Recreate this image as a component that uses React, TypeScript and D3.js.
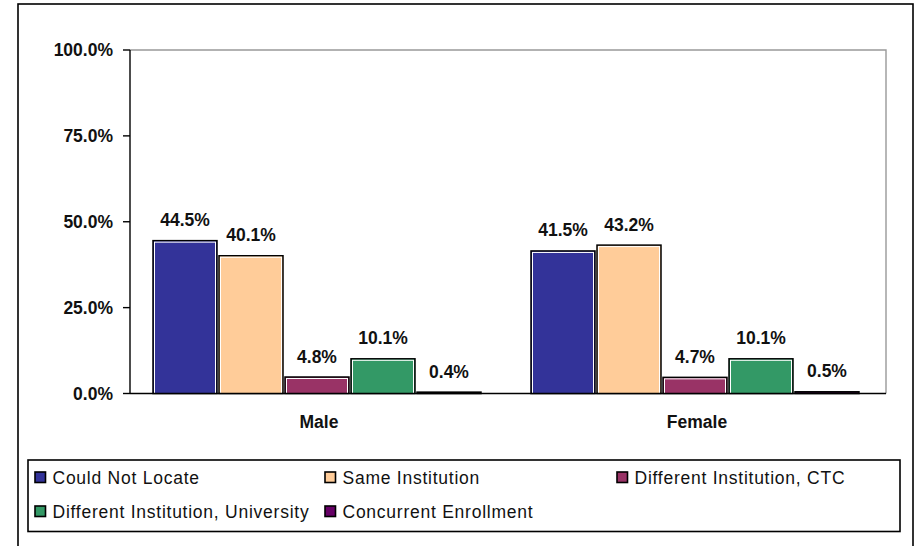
import * as d3 from "d3";

const categories = ["Male", "Female"];
const seriesNames = [
  "Could Not Locate",
  "Same Institution",
  "Different Institution, CTC",
  "Different Institution, University",
  "Concurrent Enrollment",
];
const seriesColors = ["#333399", "#FFCC99", "#993366", "#339966", "#660066"];
// values per series, [Male, Female]
const couldNotLocate = [0.445, 0.415];
const sameInstitution = [0.401, 0.432];
const diffCTC = [0.048, 0.047];
const diffUniversity = [0.101, 0.101];
const concurrent = [0.004, 0.005];
const yTicks = [0, 0.25, 0.5, 0.75, 1];

const seriesValues = [couldNotLocate, sameInstitution, diffCTC, diffUniversity, concurrent];

const WIDTH = 921;
const HEIGHT = 546;
const PLOT = { left: 130, right: 886, top: 50, bottom: 393.5 };
const FONT = "'Liberation Sans', Arial, Helvetica, sans-serif";

export default function App() {
  const x0 = d3
    .scaleBand<string>()
    .domain(categories)
    .range([PLOT.left, PLOT.right])
    .paddingInner(0.127)
    .paddingOuter(0.0635);
  const x1 = d3
    .scaleBand<string>()
    .domain(seriesNames)
    .range([0, x0.bandwidth()]);
  const y = d3.scaleLinear().domain([0, 1]).range([PLOT.bottom, PLOT.top]);
  const fmt = d3.format(".1%");

  const bars = categories.flatMap((cat, ci) =>
    seriesNames.map((s, si) => {
      const v = seriesValues[si][ci];
      // group sits a touch left of the category centre in the original
      const bx = (x0(cat) ?? 0) + (x1(s) ?? 0) - 1;
      const bw = x1.bandwidth() - 2;
      const top = y(v);
      const h = PLOT.bottom - top;
      return (
        <g key={`${cat}-${s}`}>
          <rect x={bx} y={top} width={bw} height={h} fill={seriesColors[si]} stroke="#000" strokeWidth={1.5} />
          {h > 4 && (
            <rect
              x={bx + 1.5}
              y={top + 1.5}
              width={bw - 3}
              height={h - 1.5}
              fill={seriesColors[si]}
              stroke="#fff"
              strokeWidth={1}
            />
          )}
          <text
            x={bx + bw / 2}
            y={top - 14.5}
            textAnchor="middle"
            fontSize={17.5}
            fontWeight="bold"
            fill="#111"
          >
            {fmt(v)}
          </text>
        </g>
      );
    })
  );

  const legendCols = [35, 325, 617];
  const legendRows = [484, 518];

  return (
    <svg
      width={WIDTH}
      height={HEIGHT}
      style={{ position: "absolute", left: 0, top: 0, fontFamily: FONT }}
    >
      <rect x={0} y={0} width={WIDTH} height={HEIGHT} fill="#fff" />
      {/* outer frame */}
      <rect x={18} y={4} width={895} height={560} fill="none" stroke="#000" strokeWidth={1.6} />

      {/* plot area border */}
      <path
        d={`M${PLOT.left},${PLOT.top}H${PLOT.right}V${PLOT.bottom}`}
        fill="none"
        stroke="#999"
        strokeWidth={1.4}
      />

      {bars}

      {/* axes */}
      <line x1={PLOT.left} x2={PLOT.left} y1={PLOT.top} y2={PLOT.bottom} stroke="#000" strokeWidth={1.4} />
      <line x1={PLOT.left} x2={PLOT.right} y1={PLOT.bottom} y2={PLOT.bottom} stroke="#000" strokeWidth={1.4} />
      {yTicks.map((t) => (
        <g key={t}>
          <line x1={PLOT.left - 7} x2={PLOT.left} y1={y(t)} y2={y(t)} stroke="#000" strokeWidth={1.4} />
          <text
            x={113}
            y={y(t)}
            dy="0.35em"
            textAnchor="end"
            fontSize={17.5}
            fontWeight="bold"
            fill="#111"
          >
            {fmt(t)}
          </text>
        </g>
      ))}
      {categories.map((c) => (
        <text
          key={c}
          x={(x0(c) ?? 0) + x0.bandwidth() / 2}
          y={428}
          textAnchor="middle"
          fontSize={17.5}
          fontWeight="bold"
          fill="#111"
        >
          {c}
        </text>
      ))}

      {/* legend */}
      <rect x={28} y={460} width={872} height={71.5} fill="#fff" stroke="#000" strokeWidth={1.6} />
      {seriesNames.map((s, i) => {
        const lx = legendCols[i % 3];
        const ly = legendRows[Math.floor(i / 3)];
        return (
          <g key={s}>
            <rect x={lx} y={ly - 12} width={10.5} height={10.5} fill={seriesColors[i]} stroke="#000" strokeWidth={1.6} />
            <text x={lx + 17.5} y={ly} fontSize={17.5} letterSpacing={0.75} fill="#111">
              {s}
            </text>
          </g>
        );
      })}
    </svg>
  );
}
